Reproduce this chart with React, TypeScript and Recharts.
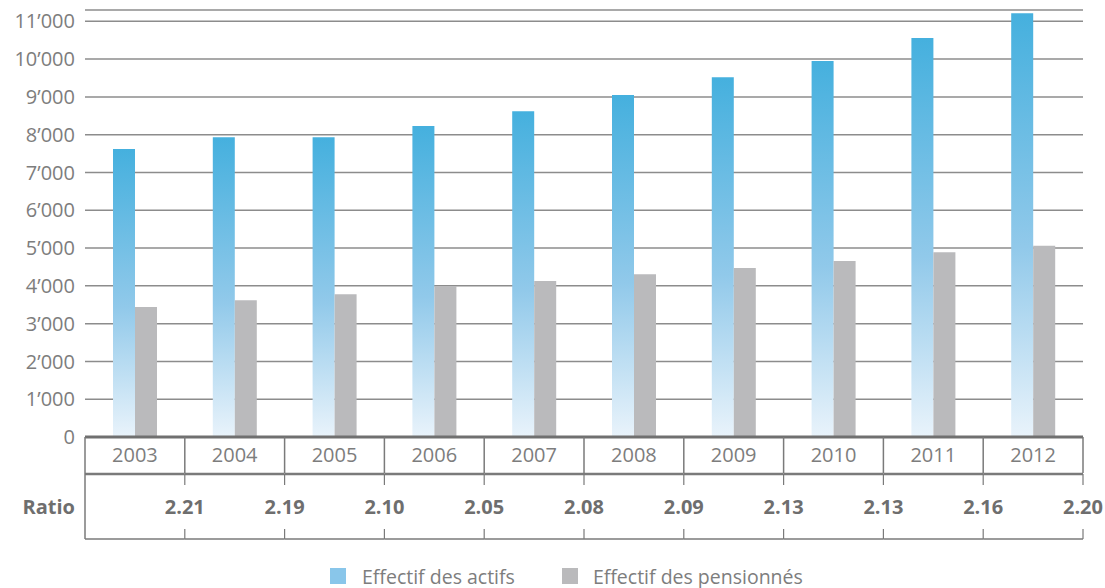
import React from 'react';
import { BarChart, Bar, XAxis, YAxis, CartesianGrid, Legend } from 'recharts';

const years = ['2003', '2004', '2005', '2006', '2007', '2008', '2009', '2010', '2011', '2012'];
const actifs = [7620, 7935, 7930, 8230, 8620, 9050, 9520, 9950, 10560, 11215];
const pensionnes = [3440, 3620, 3780, 3995, 4130, 4310, 4470, 4660, 4890, 5060];
const ratios = ['2.21', '2.19', '2.10', '2.05', '2.08', '2.09', '2.13', '2.13', '2.16', '2.20'];
const yTicks = [0, 1000, 2000, 3000, 4000, 5000, 6000, 7000, 8000, 9000, 10000, 11000];

const data = years.map((year, i) => ({
    year,
    actifs: actifs[i],
    pensionnes: pensionnes[i],
    ratio: ratios[i],
}));

const W = 1105;
const H = 588;
// domain top sits a little above the last gridline so the 2012 bar is not clipped
const Y_MAX = 11300;
const MARGIN = { top: 10, right: 22, bottom: 0, left: 0 };
const Y_AXIS_W = 85;
const LEGEND_H = 24;
const BAND = (W - MARGIN.left - MARGIN.right - Y_AXIS_W) / years.length;

const FONT = '"Open Sans", "Noto Sans", sans-serif';
const TEXT = '#7d7d7d';
const LINE = '#7a7a7a';
const BLUE = '#89c6ea';
const GREY = '#bababc';

const fmt = (v: number) => {
    if (v === 0) return '0';
    const th = Math.floor(v / 1000);
    return `${th}\u2019000`;
};

const TableTick = (props: any) => {
    const { x, y, payload, index } = props;
    const left = x - BAND / 2;
    const right = x + BAND / 2;
    return (
        <g>
            <text x={x} y={y + 25} textAnchor="middle" fill={TEXT} fontSize={20} fontFamily={FONT}>
                {payload.value}
            </text>
            <line x1={right} x2={right} y1={y} y2={y + 36} stroke={LINE} strokeWidth={1.5} />
            <line x1={left} x2={right} y1={y + 37} y2={y + 37} stroke={LINE} strokeWidth={2.5} />
            <line x1={right} x2={right} y1={y + 37} y2={y + 48} stroke={LINE} strokeWidth={1.2} />
            <line x1={right} x2={right} y1={y + 92} y2={y + 102} stroke={LINE} strokeWidth={1.2} />
            <line x1={left} x2={right} y1={y + 102} y2={y + 102} stroke={LINE} strokeWidth={1.5} />
            {index === 0 && (
                <g>
                    <line x1={left} x2={left} y1={y} y2={y + 102} stroke={LINE} strokeWidth={1.5} />
                    <text x={left - 10} y={y + 77} textAnchor="end" fill="#6e6e6e" fontSize={20} fontWeight="bold" fontFamily={FONT}>
                        Ratio
                    </text>
                </g>
            )}
            <text x={right} y={y + 77} textAnchor="middle" fill="#6e6e6e" fontSize={20} fontWeight="bold" fontFamily={FONT}>
                {ratios[index]}
            </text>
        </g>
    );
};

const renderLegend = () => (
    <div style={{ display: 'flex', alignItems: 'center', height: LEGEND_H, paddingLeft: 330, fontFamily: FONT, fontSize: 19.5, color: TEXT }}>
        <span style={{ width: 16, height: 16, background: BLUE, display: 'inline-block', marginRight: 16 }} />
        <span style={{ marginRight: 47 }}>Effectif des actifs</span>
        <span style={{ width: 16, height: 16, background: GREY, display: 'inline-block', marginRight: 15 }} />
        <span>Effectif des pensionnés</span>
    </div>
);

export default function App() {
    return (
        <div style={{ position: 'absolute', left: 0, top: 0, width: W, height: H, background: '#fff' }}>
            <BarChart width={W} height={H} data={data} margin={MARGIN} barSize={22} barGap={0}>
                <defs>
                    <linearGradient id="blueGrad" x1="0" y1="0" x2="0" y2="1">
                        <stop offset="0%" stopColor="#45b0de" />
                        <stop offset="55%" stopColor="#91c9ea" />
                        <stop offset="100%" stopColor="#e9f3fb" />
                    </linearGradient>
                </defs>
                <CartesianGrid vertical={false} stroke="#8c8c8c" strokeWidth={1.5} />
                <YAxis
                    width={Y_AXIS_W}
                    domain={[0, Y_MAX]}
                    ticks={yTicks}
                    interval={0}
                    tickFormatter={fmt}
                    axisLine={false}
                    tickLine={false}
                    tickSize={0}
                    tickMargin={10}
                    tick={{ fill: TEXT, fontSize: 20, fontFamily: FONT }}
                />
                <XAxis
                    dataKey="year"
                    height={H - 437 - LEGEND_H}
                    interval={0}
                    tickLine={false}
                    tickSize={0}
                    tickMargin={0}
                    axisLine={{ stroke: '#707070', strokeWidth: 3 }}
                    tick={<TableTick />}
                />
                <Legend verticalAlign="bottom" content={renderLegend} />
                <Bar dataKey="actifs" name="Effectif des actifs" fill="url(#blueGrad)" isAnimationActive={false} />
                <Bar dataKey="pensionnes" name="Effectif des pensionnés" fill={GREY} isAnimationActive={false} />
            </BarChart>
        </div>
    );
}
